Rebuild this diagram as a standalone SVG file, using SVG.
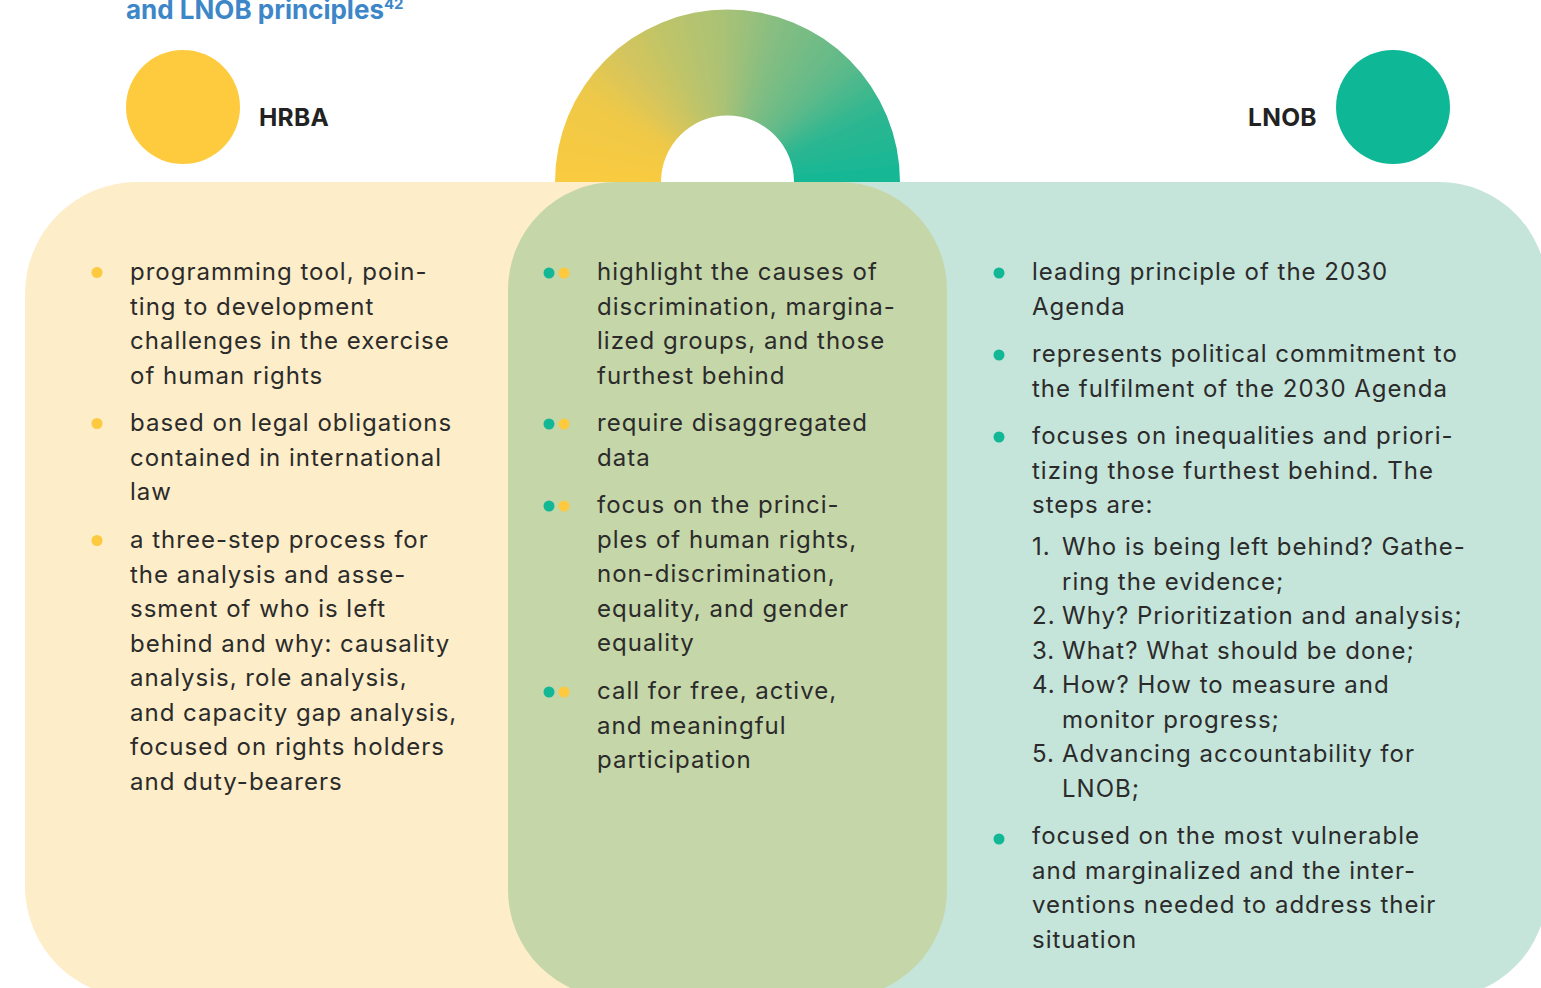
<svg xmlns="http://www.w3.org/2000/svg" width="1541" height="988" viewBox="0 0 1541 988">
<style>
.t{font-family:Inter,"Noto Sans","Liberation Sans",sans-serif;font-size:24px;fill:#2b2b2b;letter-spacing:1px}
.h{font-family:Inter,"Liberation Sans",sans-serif;font-size:24.5px;font-weight:700;fill:#222;letter-spacing:0.3px}
.ttl{font-family:Inter,"Liberation Sans",sans-serif;font-weight:700;fill:#3d87c8}
.y{fill:#fcc93f}
.g{fill:#12b795}
#arc polygon{stroke-width:1;stroke-linejoin:round}
</style>
<defs>
<clipPath id="ring"><path d="M555,182 A172.5,172.5 0 0 1 900,182 L794,182 A66.5,66.5 0 0 0 661,182 Z"/></clipPath>
<filter id="soft" x="-20%" y="-20%" width="140%" height="140%"><feGaussianBlur stdDeviation="3"/></filter>
</defs>
<rect width="1541" height="988" fill="#fff"/>
<text class="ttl" x="126" y="19" font-size="26">and LNOB principles<tspan font-size="15" dy="-10">42</tspan></text>
<g id="arc" clip-path="url(#ring)">
<g filter="url(#soft)">
<rect x="520" y="181" width="208" height="30" fill="#F8CB40"/>
<rect x="727" y="181" width="210" height="30" fill="#15B795"/>
<g transform="translate(727.5 182) scale(1.15) translate(-727.5 -182)">
<polygon points="727.5,182 555,182 555.66,166.96" fill="#F8CB40" stroke="#F8CB40"/>
<polygon points="727.5,182 555.66,166.96 557.62,152.05" fill="#F7CA42" stroke="#F7CA42"/>
<polygon points="727.5,182 557.62,152.05 560.88,137.35" fill="#F5CA42" stroke="#F5CA42"/>
<polygon points="727.5,182 560.88,137.35 565.40,123.00" fill="#F4CA44" stroke="#F4CA44"/>
<polygon points="727.5,182 565.40,123.00 571.16,109.10" fill="#F2C944" stroke="#F2C944"/>
<polygon points="727.5,182 571.16,109.10 578.11,95.75" fill="#F1C946" stroke="#F1C946"/>
<polygon points="727.5,182 578.11,95.75 586.20,83.06" fill="#EDC849" stroke="#EDC849"/>
<polygon points="727.5,182 586.20,83.06 595.36,71.12" fill="#E6C84F" stroke="#E6C84F"/>
<polygon points="727.5,182 595.36,71.12 605.52,60.02" fill="#DFC655" stroke="#DFC655"/>
<polygon points="727.5,182 605.52,60.02 616.62,49.86" fill="#D9C65A" stroke="#D9C65A"/>
<polygon points="727.5,182 616.62,49.86 628.56,40.70" fill="#D2C55E" stroke="#D2C55E"/>
<polygon points="727.5,182 628.56,40.70 641.25,32.61" fill="#CCC561" stroke="#CCC561"/>
<polygon points="727.5,182 641.25,32.61 654.60,25.66" fill="#C5C565" stroke="#C5C565"/>
<polygon points="727.5,182 654.60,25.66 668.50,19.90" fill="#BFC469" stroke="#BFC469"/>
<polygon points="727.5,182 668.50,19.90 682.85,15.38" fill="#BAC46C" stroke="#BAC46C"/>
<polygon points="727.5,182 682.85,15.38 697.55,12.12" fill="#B5C36F" stroke="#B5C36F"/>
<polygon points="727.5,182 697.55,12.12 712.46,10.16" fill="#B0C372" stroke="#B0C372"/>
<polygon points="727.5,182 712.46,10.16 727.5,9.5" fill="#ABC275" stroke="#ABC275"/>
<polygon points="727.5,182 727.5,9.5 742.54,10.16" fill="#A3C178" stroke="#A3C178"/>
<polygon points="727.5,182 742.54,10.16 757.45,12.12" fill="#9AC07B" stroke="#9AC07B"/>
<polygon points="727.5,182 757.45,12.12 772.15,15.38" fill="#90BF7E" stroke="#90BF7E"/>
<polygon points="727.5,182 772.15,15.38 786.50,19.90" fill="#87BE81" stroke="#87BE81"/>
<polygon points="727.5,182 786.50,19.90 800.40,25.66" fill="#7FBD83" stroke="#7FBD83"/>
<polygon points="727.5,182 800.40,25.66 813.75,32.61" fill="#78BC84" stroke="#78BC84"/>
<polygon points="727.5,182 813.75,32.61 826.44,40.70" fill="#71BC86" stroke="#71BC86"/>
<polygon points="727.5,182 826.44,40.70 838.38,49.86" fill="#6ABB88" stroke="#6ABB88"/>
<polygon points="727.5,182 838.38,49.86 849.48,60.02" fill="#63BA89" stroke="#63BA89"/>
<polygon points="727.5,182 849.48,60.02 859.64,71.12" fill="#59BA8B" stroke="#59BA8B"/>
<polygon points="727.5,182 859.64,71.12 868.80,83.06" fill="#4CB98D" stroke="#4CB98D"/>
<polygon points="727.5,182 868.80,83.06 876.89,95.75" fill="#40B88E" stroke="#40B88E"/>
<polygon points="727.5,182 876.89,95.75 883.84,109.10" fill="#33B790" stroke="#33B790"/>
<polygon points="727.5,182 883.84,109.10 889.60,123.00" fill="#2AB691" stroke="#2AB691"/>
<polygon points="727.5,182 889.60,123.00 894.12,137.35" fill="#25B692" stroke="#25B692"/>
<polygon points="727.5,182 894.12,137.35 897.38,152.05" fill="#20B793" stroke="#20B793"/>
<polygon points="727.5,182 897.38,152.05 899.34,166.96" fill="#1AB794" stroke="#1AB794"/>
<polygon points="727.5,182 899.34,166.96 900,182" fill="#15B795" stroke="#15B795"/>
</g>
</g>
</g>
<g id="hrba-icon"><circle cx="183" cy="107" r="57" fill="#fecb3e"/><text class="h" x="259" y="126">HRBA</text></g>
<g id="lnob-icon"><circle cx="1393" cy="107" r="57" fill="#0eb896"/><text class="h" x="1248" y="126">LNOB</text></g>
<g id="hrba">
<rect x="25" y="182" width="720" height="816" rx="112" fill="#fdedc8"/>
</g>
<g id="lnob">
<rect x="700" y="182" width="847" height="816" rx="108" fill="#c5e4da"/>
</g>
<g id="both">
<rect x="508" y="182" width="439" height="816" rx="108" fill="#c5d6a9"/>
</g>
<g id="hrba-text">
<circle class="y" cx="97" cy="272.5" r="5.5"/>
<circle class="y" cx="97" cy="423.5" r="5.5"/>
<circle class="y" cx="97" cy="540.5" r="5.5"/>
<text class="t" x="130" y="280">programming tool, poin-</text>
<text class="t" x="130" y="314.5">ting to development</text>
<text class="t" x="130" y="349">challenges in the exercise</text>
<text class="t" x="130" y="384">of human rights</text>
<text class="t" x="130" y="431">based on legal obligations</text>
<text class="t" x="130" y="465.5">contained in international</text>
<text class="t" x="130" y="500">law</text>
<text class="t" x="130" y="548">a three-step process for</text>
<text class="t" x="130" y="582.5">the analysis and asse-</text>
<text class="t" x="130" y="617">ssment of who is left</text>
<text class="t" x="130" y="651.5">behind and why: causality</text>
<text class="t" x="130" y="686">analysis, role analysis,</text>
<text class="t" x="130" y="720.5">and capacity gap analysis,</text>
<text class="t" x="130" y="755">focused on rights holders</text>
<text class="t" x="130" y="789.5">and duty-bearers</text>
</g>
<g id="both-text">
<circle class="g" cx="549" cy="273" r="5.5"/><circle class="y" cx="564" cy="273" r="5.5"/>
<circle class="g" cx="549" cy="424" r="5.5"/><circle class="y" cx="564" cy="424" r="5.5"/>
<circle class="g" cx="549" cy="506" r="5.5"/><circle class="y" cx="564" cy="506" r="5.5"/>
<circle class="g" cx="549" cy="692" r="5.5"/><circle class="y" cx="564" cy="692" r="5.5"/>
<text class="t" x="597" y="280">highlight the causes of</text>
<text class="t" x="597" y="314.5">discrimination, margina-</text>
<text class="t" x="597" y="349">lized groups, and those</text>
<text class="t" x="597" y="384">furthest behind</text>
<text class="t" x="597" y="431">require disaggregated</text>
<text class="t" x="597" y="465.5">data</text>
<text class="t" x="597" y="513">focus on the princi-</text>
<text class="t" x="597" y="547.5">ples of human rights,</text>
<text class="t" x="597" y="582">non-discrimination,</text>
<text class="t" x="597" y="616.5">equality, and gender</text>
<text class="t" x="597" y="651">equality</text>
<text class="t" x="597" y="699">call for free, active,</text>
<text class="t" x="597" y="733.5">and meaningful</text>
<text class="t" x="597" y="768">participation</text>
</g>
<g id="lnob-text">
<circle class="g" cx="999" cy="273" r="5.5"/>
<circle class="g" cx="999" cy="355" r="5.5"/>
<circle class="g" cx="999" cy="437" r="5.5"/>
<circle class="g" cx="999" cy="839" r="5.5"/>
<text class="t" x="1032" y="280">leading principle of the 2030</text>
<text class="t" x="1032" y="314.5">Agenda</text>
<text class="t" x="1032" y="362">represents political commitment to</text>
<text class="t" x="1032" y="396.5">the fulfilment of the 2030 Agenda</text>
<text class="t" x="1032" y="444">focuses on inequalities and priori-</text>
<text class="t" x="1032" y="478.5">tizing those furthest behind. The</text>
<text class="t" x="1032" y="513">steps are:</text>
<text class="t" x="1032" y="555">1.</text><text class="t" x="1062" y="555">Who is being left behind? Gathe-</text>
<text class="t" x="1062" y="589.5">ring the evidence;</text>
<text class="t" x="1032" y="624">2.</text><text class="t" x="1062" y="624">Why? Prioritization and analysis;</text>
<text class="t" x="1032" y="658.5">3.</text><text class="t" x="1062" y="658.5">What? What should be done;</text>
<text class="t" x="1032" y="693">4.</text><text class="t" x="1062" y="693">How? How to measure and</text>
<text class="t" x="1062" y="727.5">monitor progress;</text>
<text class="t" x="1032" y="762">5.</text><text class="t" x="1062" y="762">Advancing accountability for</text>
<text class="t" x="1062" y="796.5">LNOB;</text>
<text class="t" x="1032" y="844">focused on the most vulnerable</text>
<text class="t" x="1032" y="878.5">and marginalized and the inter-</text>
<text class="t" x="1032" y="913">ventions needed to address their</text>
<text class="t" x="1032" y="947.5">situation</text>
</g>
</svg>
